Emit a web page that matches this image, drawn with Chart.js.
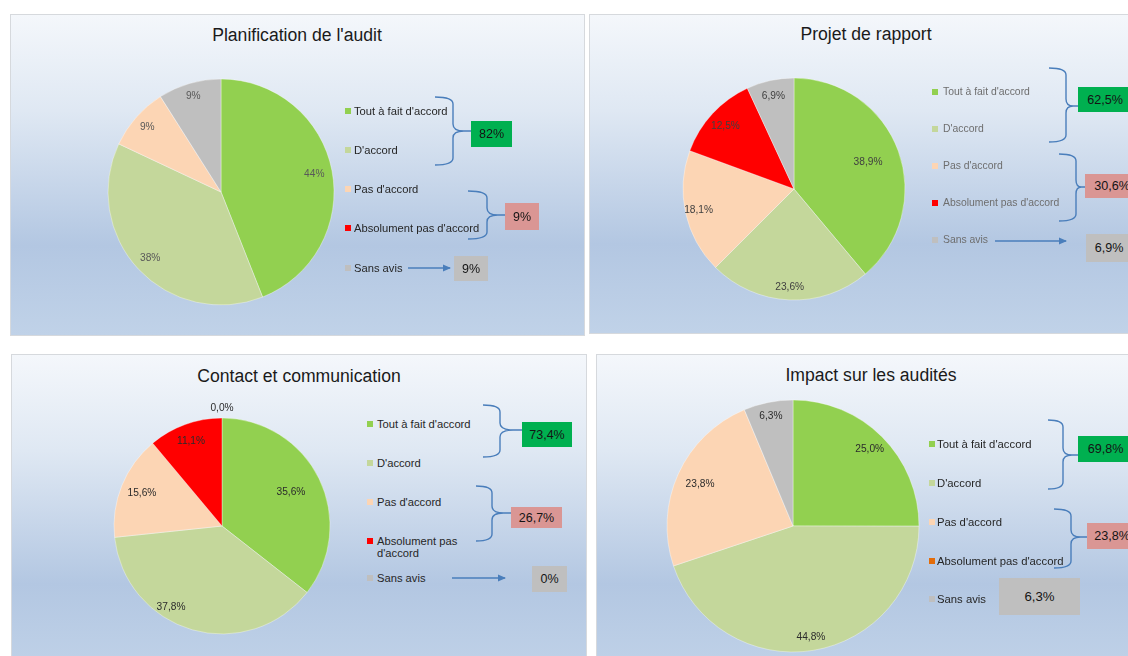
<!DOCTYPE html>
<html>
<head>
<meta charset="utf-8">
<script src="https://cdn.jsdelivr.net/npm/chart.js@4.4.0/dist/chart.umd.min.js"></script>
<style>
html,body{margin:0;padding:0;background:#fff;width:1128px;height:656px;overflow:hidden;font-family:"Liberation Sans",Arial,sans-serif;}
#stage{position:relative;width:1128px;height:656px;overflow:hidden;}
.panel{position:absolute;box-sizing:border-box;border:1.5px solid #d6d9dd;
  background:linear-gradient(to bottom,#f4f7fb 0%,#dfe8f3 30%,#b3c7e2 72%,#c0d2e8 100%);}
.title{position:absolute;transform:translate(-50%,-50%);white-space:nowrap;font-size:17.6px;color:#1a1a1a;}
.leg{position:absolute;white-space:nowrap;line-height:12px;}
.mk{position:absolute;width:6px;height:6px;}
.box{position:absolute;display:flex;align-items:center;justify-content:center;box-sizing:border-box;color:#141414;white-space:nowrap;}
canvas{position:absolute;}
svg{position:absolute;left:0;top:0;}
</style>
</head>
<body>
<div id="stage"></div>
<script>
// ---------- DATA ----------
const categories = ["Tout à fait d'accord", "D'accord", "Pas d'accord", "Absolument pas d'accord", "Sans avis"];
const chartTitles = ["Planification de l'audit", "Projet de rapport", "Contact et communication", "Impact sur les audités"];
const planificationValues = [44, 38, 9, 0, 9];
const projetValues = [38.9, 23.6, 18.1, 12.5, 6.9];
const contactValues = [35.6, 37.8, 15.6, 11.1, 0.0];
const impactValues = [25.0, 44.8, 23.8, 0, 6.3];
const planificationSummary = [82, 9, 9];
const projetSummary = [62.5, 30.6, 6.9];
const contactSummary = [73.4, 26.7, 0];
const impactSummary = [69.8, 23.8, 6.3];
const allValues = [planificationValues, projetValues, contactValues, impactValues];
const allSummaries = [planificationSummary, projetSummary, contactSummary, impactSummary];

// ---------- STYLE / LAYOUT ----------
const baseColors = ['#92D050', '#C4D79B', '#FCD5B4', '#FF0000', '#BFBFBF'];
const impactColors = ['#92D050', '#C4D79B', '#FCD5B4', '#E36C09', '#BFBFBF'];
const boxColors = ['#00B050', '#DA9694', '#BFBFBF'];
const lineColor = '#4A7EBB';

const layout = [
  { frame:[10,14,575,322], title:[297,35], pie:[220.5,191.5,113], colors:baseColors,
    legend:{mx:345, tx:354, ys:[111,150,189,228,268], font:11.2, color:'#262626', width:null},
    braces:[[435,453,471,97,131,165],[468,487,505,191,215,239]],
    boxes:[[471,121,41,26,12.5],[505,203,34,27,12.5],[454,256,34,25,12.5]],
    arrow:[408,450,268], labelRadii:[0.84,0.86,0.87,null,0.88], labelShift:[0,0,0,0,0], labelColor:'#595959', decimals:0 },
  { frame:[589,14,560,320], title:[866,34], pie:[793.5,189,111], colors:baseColors,
    legend:{mx:932, tx:943, ys:[92,129,166,203,240], font:10.4, color:'#6e6e6e', width:null},
    braces:[[1049,1066,1078,68,106,142],[1059,1076,1085,154,187,221]],
    boxes:[[1078,87,54,25,12.6],[1085,174,54,24,12.6],[1086,234,46,28,12.6]],
    arrow:[995,1066,241], labelRadii:[0.71,0.89,0.88,0.84,0.86], labelShift:[0,0,0,0,0], labelColor:'#404040', decimals:1 },
  { frame:[11,354,576,320], title:[299,376], pie:[221.5,526,108], colors:baseColors,
    legend:{mx:367, tx:377, ys:[424,463,502,541,578], font:11.2, color:'#262626', width:100},
    braces:[[483,500,522,405,430,457],[476,492,511,486,513,541]],
    boxes:[[522,422,50,25,12.5],[511,507,51,21,12.5],[532,566,35,26,12.5]],
    arrow:[452,505,578], labelRadii:[0.71,0.89,0.80,0.84,1.09], labelShift:[0,16,0,0,0], labelColor:'#2b2b2b', decimals:1 },
  { frame:[596,354,560,320], title:[871,375], pie:[793,526,126], colors:impactColors,
    legend:{mx:929, tx:937, ys:[444,483,522,561,599], font:11.3, color:'#262626', width:null},
    braces:[[1048,1063,1078,420,455,489],[1054,1071,1087,509,537,568]],
    boxes:[[1078,436,55,26,12.6],[1087,523,50,26,12.6],[999,578,81,37,13.2]],
    arrow:null, labelRadii:[0.86,0.89,0.81,null,0.89], labelShift:[0,0,0,0,0], labelColor:'#2b2b2b', decimals:1 }
];

function fmtValue(v, dec){ return v.toFixed(dec).replace('.', ',') + '%'; }
function fmtSummary(v){ return Number.isInteger(v) ? v + '%' : v.toFixed(1).replace('.', ',') + '%'; }

const sliceLabels = {
  id:'sliceLabels',
  afterDatasetsDraw(chart, args, opts){
    const meta = chart.getDatasetMeta(0);
    const ds = chart.data.datasets[0];
    const ctx = chart.ctx;
    ctx.save();
    ctx.font = '10.2px "Liberation Sans", Arial, sans-serif';
    ctx.fillStyle = opts.color;
    ctx.textAlign = 'center';
    ctx.textBaseline = 'middle';
    meta.data.forEach((arc, i) => {
      const f = opts.radii[i];
      if (f == null) return;
      const p = arc.getProps(['x','y','startAngle','endAngle','outerRadius'], true);
      const a = (p.startAngle + p.endAngle) / 2 + (opts.shift[i] || 0) * Math.PI / 180;
      ctx.fillText(fmtValue(ds.data[i], opts.decimals), p.x + Math.cos(a) * p.outerRadius * f, p.y + Math.sin(a) * p.outerRadius * f);
    });
    ctx.restore();
  }
};

const stage = document.getElementById('stage');
const NS = 'http://www.w3.org/2000/svg';

layout.forEach((L, k) => {
  const fr = document.createElement('div');
  fr.className = 'panel';
  Object.assign(fr.style, {left:L.frame[0]+'px', top:L.frame[1]+'px', width:L.frame[2]+'px', height:L.frame[3]+'px'});
  stage.appendChild(fr);
});

layout.forEach((L, k) => {
  const t = document.createElement('div');
  t.className = 'title';
  t.textContent = chartTitles[k];
  t.style.left = L.title[0] + 'px'; t.style.top = L.title[1] + 'px';
  stage.appendChild(t);

  const [cx, cy, r] = L.pie;
  const pad = 30;
  const S = Math.round(2 * r + 2 * pad);
  const cv = document.createElement('canvas');
  cv.width = S; cv.height = S;
  cv.style.width = S + 'px'; cv.style.height = S + 'px';
  cv.style.left = (cx - S / 2) + 'px'; cv.style.top = (cy - S / 2) + 'px';
  stage.appendChild(cv);
  new Chart(cv, {
    type: 'pie',
    data: { labels: categories, datasets: [{ data: allValues[k], backgroundColor: L.colors, borderColor: 'rgba(255,255,255,0.45)', borderWidth: 0.8 }] },
    options: {
      responsive: false, animation: false, events: [], radius: r,
      layout: { padding: 0 },
      plugins: { legend: { display: false }, tooltip: { enabled: false }, title: { display: false },
                 sliceLabels: { radii: L.labelRadii, shift: L.labelShift, color: L.labelColor, decimals: L.decimals } }
    },
    plugins: [sliceLabels]
  });

  categories.forEach((c, i) => {
    const y = L.legend.ys[i];
    const m = document.createElement('div');
    m.className = 'mk';
    m.style.background = L.colors[i];
    m.style.left = L.legend.mx + 'px'; m.style.top = (y - 3) + 'px';
    stage.appendChild(m);
    const tx = document.createElement('div');
    tx.className = 'leg';
    tx.textContent = c;
    Object.assign(tx.style, {left:L.legend.tx+'px', top:(y-6)+'px', fontSize:L.legend.font+'px', color:L.legend.color});
    if (L.legend.width) { tx.style.whiteSpace = 'normal'; tx.style.width = L.legend.width + 'px'; }
    stage.appendChild(tx);
  });

  L.boxes.forEach((b, i) => {
    const d = document.createElement('div');
    d.className = 'box';
    Object.assign(d.style, {left:b[0]+'px', top:b[1]+'px', width:b[2]+'px', height:b[3]+'px', fontSize:b[4]+'px', background:boxColors[i]});
    d.textContent = fmtSummary(allSummaries[k][i]);
    stage.appendChild(d);
  });
});

const svg = document.createElementNS(NS, 'svg');
svg.setAttribute('width', 1128); svg.setAttribute('height', 656);
const defs = document.createElementNS(NS, 'defs');
defs.innerHTML = '<marker id="ah" markerWidth="8" markerHeight="8" refX="7" refY="4" orient="auto" markerUnits="userSpaceOnUse"><path d="M0,0.5 L8,4 L0,7.5 z" fill="' + lineColor + '"/></marker>';
svg.appendChild(defs);
layout.forEach(L => {
  L.braces.forEach(([x0, x1, x2, yT, yM, yB]) => {
    const rr = 7;
    const d = `M${x0},${yT} Q${x1},${yT} ${x1},${yT+rr} L${x1},${yM-rr} Q${x1},${yM} ${x2-(x2-x1)*0.4},${yM} L${x2},${yM}` +
              ` M${x2-(x2-x1)*0.4},${yM} Q${x1},${yM} ${x1},${yM+rr} L${x1},${yB-rr} Q${x1},${yB} ${x0},${yB}`;
    const p = document.createElementNS(NS, 'path');
    p.setAttribute('d', d); p.setAttribute('fill', 'none'); p.setAttribute('stroke', lineColor); p.setAttribute('stroke-width', '1.4');
    svg.appendChild(p);
  });
  if (L.arrow) {
    const [xa, xb, ya] = L.arrow;
    const l = document.createElementNS(NS, 'line');
    l.setAttribute('x1', xa); l.setAttribute('x2', xb); l.setAttribute('y1', ya); l.setAttribute('y2', ya);
    l.setAttribute('stroke', lineColor); l.setAttribute('stroke-width', '1.3'); l.setAttribute('marker-end', 'url(#ah)');
    svg.appendChild(l);
  }
});
stage.appendChild(svg);
</script>
</body>
</html>
